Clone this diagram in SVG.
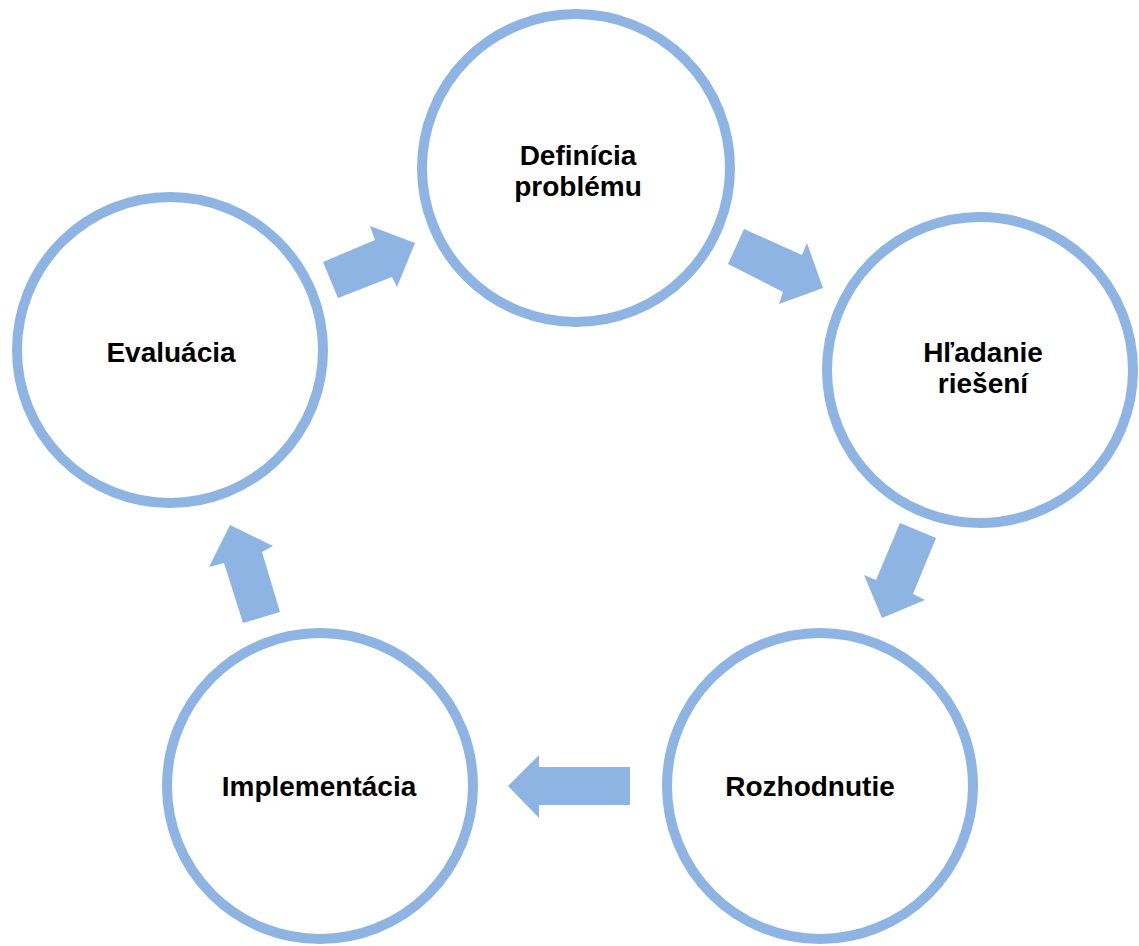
<svg xmlns="http://www.w3.org/2000/svg" width="1139" height="946" viewBox="0 0 1139 946">
<style>
.node{fill:#ffffff;stroke:#8eb4e3;stroke-width:10}
.lbl{font-family:"Liberation Sans",Arial,sans-serif;font-weight:bold;font-size:28px;fill:#000000;text-anchor:middle}
.arr{fill:#8eb4e3}
</style>
<rect width="1139" height="946" fill="#ffffff"/>
<g id="connectors">
<polygon class="arr" points="338,298 323,262 375,240 370,226 415,243 397,287 392,277"/>
<polygon class="arr" points="744,229 728,264 783,292 779,304 823,288 807,243 802,255"/>
<polygon class="arr" points="900,523 936,538 913,594 925,600 882,618 864,575 876,580"/>
<polygon class="arr" points="630,767 630,805 539,805 539,818 508,786 539,755 539,767"/>
<polygon class="arr" points="243,623 280,612 262,552 273,546 230,525 209,567 224,563"/>
</g>
<g id="node-definicia">
<circle class="node" cx="576" cy="168" r="154"/>
<text class="lbl" x="578" y="165">Definícia</text>
<text class="lbl" x="578" y="196">problému</text>
</g>
<g id="node-hladanie">
<circle class="node" cx="980" cy="370" r="153"/>
<text class="lbl" x="983" y="362">Hľadanie</text>
<text class="lbl" x="983" y="393">riešení</text>
</g>
<g id="node-rozhodnutie">
<circle class="node" cx="820" cy="786" r="153"/>
<text class="lbl" x="810" y="796">Rozhodnutie</text>
</g>
<g id="node-implementacia">
<circle class="node" cx="320" cy="786" r="153"/>
<text class="lbl" x="319" y="796">Implementácia</text>
</g>
<g id="node-evaluacia">
<circle class="node" cx="170" cy="350" r="153"/>
<text class="lbl" x="171" y="362">Evaluácia</text>
</g>
</svg>
